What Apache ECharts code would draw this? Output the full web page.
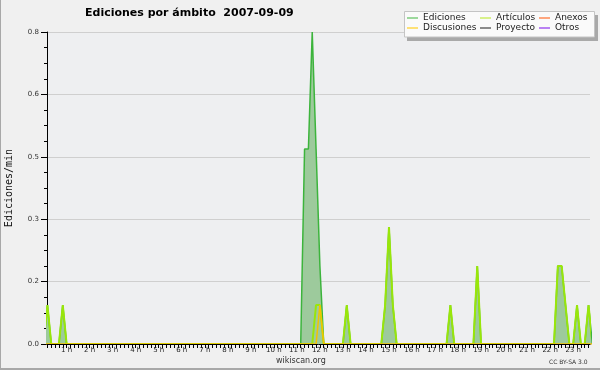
<!DOCTYPE html>
<html><head><meta charset="utf-8">
<script src="https://cdn.jsdelivr.net/npm/echarts@6/dist/echarts.min.js"></script>
<style>html,body{margin:0;padding:0;background:#f0f0f0}#c{width:600px;height:370px}</style>
</head><body><div id="c"></div>
<script>
// ---- data (values in edits/min, one value per 10-minute slot, 144 slots) ----
const titleText = 'Ediciones por ámbito  2007-09-09';
const yAxisTitle = 'Ediciones/min';
const hourLabels = [1,2,3,4,5,6,7,8,9,10,11,12,13,14,15,16,17,18,19,20,21,22,23];
const seriesNames = ['Ediciones','Artículos','Anexos','Discusiones','Proyecto','Otros'];

const ediciones = [
  0,0.1,0,0,0,0.1,0,0,0,0,0,0,
  0,0,0,0,0,0,0,0,0,0,0,0,
  0,0,0,0,0,0,0,0,0,0,0,0,
  0,0,0,0,0,0,0,0,0,0,0,0,
  0,0,0,0,0,0,0,0,0,0,0,0,
  0,0,0,0,0,0,0,0,0.5,0.5,0.8,0.5,
  0.2,0,0,0,0,0,0,0.1,0,0,0,0,
  0,0,0,0,0,0.1,0.3,0.1,0,0,0,0,
  0,0,0,0,0,0,0,0,0,0,0.1,0,
  0,0,0,0,0,0.2,0,0,0,0,0,0,
  0,0,0,0,0,0,0,0,0,0,0,0,
  0,0,0.2,0.2,0.1,0,0,0.1,0,0,0.1,0
];
const articulos = [
  0,0.1,0,0,0,0.1,0,0,0,0,0,0,
  0,0,0,0,0,0,0,0,0,0,0,0,
  0,0,0,0,0,0,0,0,0,0,0,0,
  0,0,0,0,0,0,0,0,0,0,0,0,
  0,0,0,0,0,0,0,0,0,0,0,0,
  0,0,0,0,0,0,0,0,0,0,0,0.1,
  0.1,0,0,0,0,0,0,0.1,0,0,0,0,
  0,0,0,0,0,0.1,0.3,0.1,0,0,0,0,
  0,0,0,0,0,0,0,0,0,0,0.1,0,
  0,0,0,0,0,0.2,0,0,0,0,0,0,
  0,0,0,0,0,0,0,0,0,0,0,0,
  0,0,0.2,0.2,0.1,0,0,0.1,0,0,0.1,0
];
const discusiones = [
  0,0,0,0,0,0,0,0,0,0,0,0,
  0,0,0,0,0,0,0,0,0,0,0,0,
  0,0,0,0,0,0,0,0,0,0,0,0,
  0,0,0,0,0,0,0,0,0,0,0,0,
  0,0,0,0,0,0,0,0,0,0,0,0,
  0,0,0,0,0,0,0,0,0,0,0,0,
  0.1,0,0,0,0,0,0,0,0,0,0,0,
  0,0,0,0,0,0,0,0,0,0,0,0,
  0,0,0,0,0,0,0,0,0,0,0,0,
  0,0,0,0,0,0,0,0,0,0,0,0,
  0,0,0,0,0,0,0,0,0,0,0,0,
  0,0,0,0,0,0,0,0,0,0,0,0
];
const anexos = [];   // nothing visible
const proyecto = []; // nothing visible
const otros = [];    // nothing visible

// ---- build ----
const SLOTS_PER_HOUR = 6;
function toPairs(arr){ return arr.map((v,i)=>[i/SLOTS_PER_HOUR, v]); }
const tickVals = [];
for (let i = 1; i < 144; i++) tickVals.push(i/SLOTS_PER_HOUR);

const colors = {
  'Ediciones':'#3cb43c','Artículos':'#99e60a','Anexos':'#ff7a45',
  'Discusiones':'#f5c200','Proyecto':'#555555','Otros':'#9b40f0'
};
const legendColors = {
  'Ediciones':'#7dcc7d','Artículos':'#cdee66','Anexos':'#ff8a55',
  'Discusiones':'#ffd84a','Proyecto':'#666666','Otros':'#a35af0'
};
const legendPos = {
  'Ediciones':[407,13.5],'Artículos':[480,13.5],'Anexos':[539,13.5],
  'Discusiones':[407,23.5],'Proyecto':[480,23.5],'Otros':[539,23.5]
};

const chart = echarts.init(document.getElementById('c'), null, {renderer:'canvas'});
const FONT = 'DejaVu Sans';

function lineSeries(name, data, extra){
  return Object.assign({
    name, type:'line', data: toPairs(data), symbol:'none', smooth:false,
    lineStyle:{width:1.5, color:colors[name]}, itemStyle:{color:legendColors[name]},
    emphasis:{disabled:true}, animation:false, clip:true
  }, extra||{});
}

const legends = seriesNames.map(n => ({
  data:[n], left:legendPos[n][0], top:legendPos[n][1], padding:0,
  icon:'rect', itemWidth:11, itemHeight:1.5, selectedMode:false, z:20,
  textStyle:{fontFamily:FONT, fontSize:9, color:'#222', padding:[0,0,0,0]}
}));

chart.setOption({
  backgroundColor:'#f0f0f0',
  animation:false,
  title:{text:titleText, left:85, top:8, padding:0,
    textStyle:{fontFamily:FONT, fontSize:11, fontWeight:'bold', color:'#000'}},
  graphic:[
    {type:'rect', shape:{x:0,y:0,width:1,height:370}, style:{fill:'#a8a8a8'}, silent:true},
    {type:'rect', shape:{x:0,y:368,width:600,height:2}, style:{fill:'#a8a8a8'}, silent:true},
    {type:'rect', shape:{x:407,y:15,width:191,height:26}, style:{fill:'#a9a9a9'}, silent:true, z:10},
    {type:'rect', shape:{x:404.5,y:11.5,width:190,height:25.5}, style:{fill:'#fafafa', stroke:'#c4c4c4', lineWidth:1}, silent:true, z:11},
    {type:'text', left:276, top:357, style:{text:'wikiscan.org', font:'8px "DejaVu Sans"', fill:'#333'}, silent:true},
    {type:'text', left:549, top:359.5, style:{text:'CC BY-SA 3.0', font:'6px "DejaVu Sans"', fill:'#333'}, silent:true}
  ],
  legend: legends,
  grid:{left:47, top:32, right:10, bottom:26, show:true, backgroundColor:'#eeeff1', borderWidth:0,
    containLabel:false, outerBoundsMode:'none'},
  xAxis:{
    type:'value', min:0.148, max:23.73, z:10,
    axisLine:{show:true, onZero:false, lineStyle:{color:'#000', width:1}},
    axisTick:{show:true, customValues:tickVals, length:4, lineStyle:{color:'#000'}},
    axisLabel:{customValues:hourLabels, formatter:v => Math.round(v)+' h', margin:3,
      fontFamily:FONT, fontSize:7, color:'#222'},
    splitLine:{show:false}
  },
  yAxis:{
    type:'value', min:0, max:0.8, interval:0.16,
    name:yAxisTitle, nameLocation:'middle', nameRotate:90, nameGap:33,
    nameTextStyle:{fontFamily:'DejaVu Sans Mono', fontSize:10, color:'#111'},
    axisLine:{show:true, lineStyle:{color:'#000', width:1}},
    axisTick:{show:true, length:6, lineStyle:{color:'#000'}},
    minorTick:{show:true, splitNumber:4, length:3, lineStyle:{color:'#000'}},
    axisLabel:{formatter:v => v.toFixed(1), margin:8, fontFamily:FONT, fontSize:7, color:'#333'},
    splitLine:{show:true, lineStyle:{color:'#cfcfcf', width:1}}
  },
  series:[
    lineSeries('Ediciones', ediciones, {areaStyle:{color:'#9dca9c', opacity:1}, z:2}),
    lineSeries('Artículos', articulos, {lineStyle:{width:2, color:colors['Artículos']}, z:3}),
    lineSeries('Anexos', anexos, {z:2}),
    lineSeries('Discusiones', discusiones, {z:4}),
    lineSeries('Proyecto', proyecto, {z:2}),
    lineSeries('Otros', otros, {z:2})
  ]
});
</script></body></html>
